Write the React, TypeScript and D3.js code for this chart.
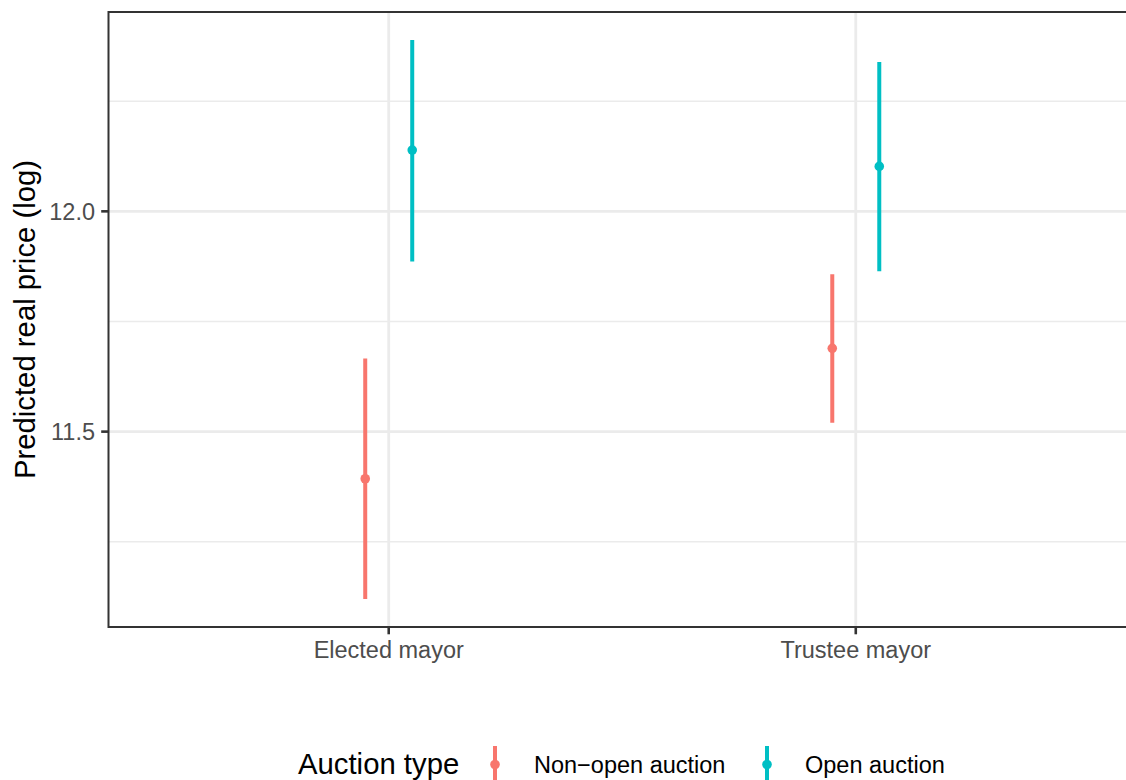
import React from "react";
import * as d3 from "d3";

const categories = ["Elected mayor", "Trustee mayor"];
const auctionTypes = ["Non\u2212open auction", "Open auction"];
const colors = ["#F8766D", "#00BFC4"];
// estimate, lower, upper per [category][auctionType]
const estimates = [
  [11.393, 12.139],
  [11.689, 12.102],
];
const lowers = [
  [11.12, 11.886],
  [11.52, 11.864],
];
const uppers = [
  [11.666, 12.389],
  [11.857, 12.339],
];
const majorTicks = [11.5, 12.0];
const minorTicks = [11.25, 11.75, 12.25];

const W = 1126;
const H = 780;
const panel = { left: 108.5, top: 12, right: 1136, bottom: 627 };
const FONT = "'Liberation Sans', Arial, Helvetica, sans-serif";

export default function App() {
  const allLo = d3.min(lowers.flat())!;
  const allHi = d3.max(uppers.flat())!;
  const pad = (allHi - allLo) * 0.05;
  const y = d3
    .scaleLinear()
    .domain([allLo - pad, allHi + pad])
    .range([panel.bottom, panel.top]);
  const x = d3
    .scalePoint<string>()
    .domain(categories)
    .range([panel.left, panel.right])
    .padding(0.6);
  const dodge = d3.scaleBand<number>().domain([0, 1]).range([-47, 47]).padding(0);
  const dx = (j: number) => dodge(j)! + dodge.bandwidth() / 2;

  return (
    <svg
      width={W}
      height={H}
      style={{ position: "absolute", left: 0, top: 0, background: "#fff" }}
      fontFamily={FONT}
    >
      <defs>
        <clipPath id="pclip">
          <rect x={panel.left} y={panel.top} width={panel.right - panel.left} height={panel.bottom - panel.top} />
        </clipPath>
      </defs>
      <rect x={0} y={0} width={W} height={H} fill="#fff" />
      <g clipPath="url(#pclip)">
        {minorTicks.map((t) => (
          <line key={"mi" + t} x1={panel.left} x2={panel.right} y1={y(t)} y2={y(t)} stroke="#EBEBEB" strokeWidth={1.4} />
        ))}
        {majorTicks.map((t) => (
          <line key={"ma" + t} x1={panel.left} x2={panel.right} y1={y(t)} y2={y(t)} stroke="#EBEBEB" strokeWidth={2.8} />
        ))}
        {categories.map((c) => (
          <line key={"vx" + c} x1={x(c)} x2={x(c)} y1={panel.top} y2={panel.bottom} stroke="#EBEBEB" strokeWidth={2.8} />
        ))}
        {categories.map((c, i) =>
          auctionTypes.map((a, j) => {
            const cx = x(c)! + dx(j);
            return (
              <g key={c + a}>
                <line x1={cx} x2={cx} y1={y(lowers[i][j])} y2={y(uppers[i][j])} stroke={colors[j]} strokeWidth={4} />
                <circle cx={cx} cy={y(estimates[i][j])} r={4.8} fill={colors[j]} />
              </g>
            );
          })
        )}
      </g>
      <rect
        x={panel.left}
        y={panel.top}
        width={panel.right - panel.left}
        height={panel.bottom - panel.top}
        fill="none"
        stroke="#333333"
        strokeWidth={2}
      />
      {/* y axis */}
      {majorTicks.map((t) => (
        <g key={"yt" + t}>
          <line x1={panel.left - 7.3} x2={panel.left} y1={y(t)} y2={y(t)} stroke="#333333" strokeWidth={2.6} />
          <text x={95} y={y(t)} dy="0.36em" textAnchor="end" fontSize={23.5} fill="#4D4D4D">
            {d3.format(".1f")(t)}
          </text>
        </g>
      ))}
      {/* x axis */}
      {categories.map((c) => (
        <g key={"xt" + c}>
          <line x1={x(c)} x2={x(c)} y1={panel.bottom} y2={panel.bottom + 7.3} stroke="#333333" strokeWidth={2.6} />
          <text x={x(c)} y={658} textAnchor="middle" fontSize={23.5} fill="#4D4D4D">
            {c}
          </text>
        </g>
      ))}
      <text
        transform={`translate(35,${(panel.top + panel.bottom) / 2}) rotate(-90)`}
        textAnchor="middle"
        fontSize={29.3}
        fill="#000"
      >
        Predicted real price (log)
      </text>
      {/* legend */}
      <text x={298} y={774} fontSize={29.3} fill="#000">
        Auction type
      </text>
      {auctionTypes.map((a, j) => {
        const kx = [495, 767][j];
        const tx = [534, 805][j];
        return (
          <g key={"lg" + a}>
            <line x1={kx} x2={kx} y1={746} y2={783} stroke={colors[j]} strokeWidth={4} />
            <circle cx={kx} cy={764.5} r={4.8} fill={colors[j]} />
            <text x={tx} y={773} fontSize={23.5} fill="#000">
              {a}
            </text>
          </g>
        );
      })}
    </svg>
  );
}
